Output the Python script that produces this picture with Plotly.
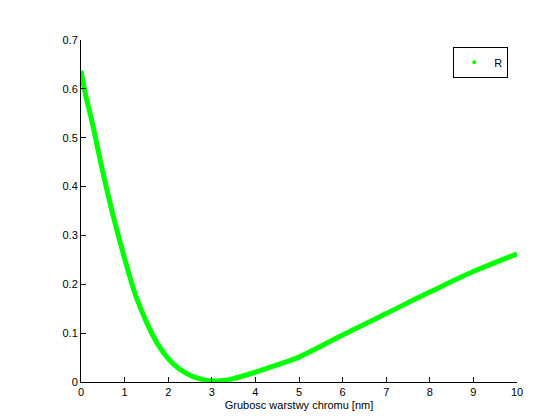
import plotly.graph_objects as go

thickness = [0, 0.1, 0.25, 0.5, 0.75, 1.0, 1.25, 1.5, 1.75, 2.0, 2.25, 2.5, 2.75, 3.0, 3.25, 3.5, 4.0, 4.5, 5, 6, 7, 8, 9, 10]
R = [0.637, 0.59, 0.534, 0.43, 0.336, 0.253, 0.178, 0.123, 0.079, 0.048, 0.027, 0.014, 0.006, 0.002, 0.003, 0.007, 0.02, 0.035, 0.051, 0.096, 0.140, 0.184, 0.226, 0.262]
y_ticks = [0, 0.1, 0.2, 0.3, 0.4, 0.5, 0.6, 0.7]
y_labels = ["0", "0.1", "0.2", "0.3", "0.4", "0.5", "0.6", "0.7"]

fig = go.Figure()
fig.add_trace(go.Scatter(x=thickness, y=R, mode="lines", line=dict(color="#00ff00", width=5, shape="spline", smoothing=1.0),
                         showlegend=False))
fig.add_trace(go.Scatter(x=[None], y=[None], mode="markers", marker=dict(color="#00ff00", size=4), name="R"))

ax = dict(showgrid=False, zeroline=False, showline=True, linecolor="black", mirror=False, automargin=False,
          ticks="inside", ticklen=5, tickcolor="black", tickfont=dict(size=11, color="black", family="Liberation Sans"))
fig.update_layout(
    width=560, height=420, margin=dict(l=73, r=51, t=32, b=46),
    plot_bgcolor="white", paper_bgcolor="white",
    xaxis=dict(range=[0, 10], dtick=1, title=dict(text="Grubosc warstwy chromu [nm]", standoff=4,
               font=dict(size=11, color="black", family="Liberation Sans")), **ax),
    yaxis=dict(range=[0, 0.7], tickvals=y_ticks, ticktext=y_labels, **ax),
    legend=dict(x=0.98, y=0.98, xanchor="right", yanchor="top", bordercolor="black", borderwidth=1,
                font=dict(size=11, color="black", family="Liberation Sans")),
)
fig.write_html("out.html")
